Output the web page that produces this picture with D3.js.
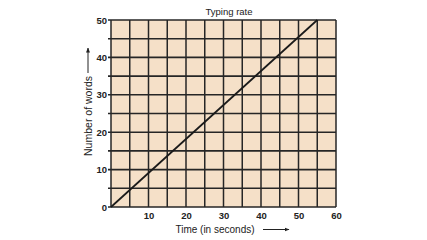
<!DOCTYPE html>
<html><head><meta charset="utf-8">
<script src="https://cdn.jsdelivr.net/npm/d3@7"></script>
<style>body{margin:0;background:#fff}svg{display:block}text{font-family:"Liberation Sans",Arial,sans-serif;fill:#222}</style>
</head><body>
<script>
const title = "Typing rate";
const xLabel = "Time (in seconds)";
const yLabel = "Number of words";
const xTicks = [10, 20, 30, 40, 50, 60];
const yTicks = [0, 10, 20, 30, 40, 50];
const timeSeconds = [0, 55];
const words = [0, 50];

const W = 427, H = 240;
const m = {left: 111, right: 91, top: 20, bottom: 33};
const svg = d3.select("body").append("svg").attr("width", W).attr("height", H);
const x = d3.scaleLinear().domain([0, 60]).range([m.left, W - m.right]);
const y = d3.scaleLinear().domain([0, 50]).range([H - m.bottom, m.top]);

svg.append("rect").attr("x", x(0)).attr("y", y(50)).attr("width", x(60) - x(0)).attr("height", y(0) - y(50)).attr("fill", "#f5e0c8");

const grid = d3.range(0, 61, 5);
const gridY = d3.range(0, 51, 5);
svg.append("g").selectAll("line").data(grid).join("line")
  .attr("x1", d => x(d)).attr("x2", d => x(d)).attr("y1", y(0)).attr("y2", y(50))
  .attr("stroke", "#262626").attr("stroke-width", 1.5);
svg.append("g").selectAll("line").data(gridY).join("line")
  .attr("x1", x(0) - 3).attr("x2", x(60)).attr("y1", d => y(d)).attr("y2", d => y(d))
  .attr("stroke", "#262626").attr("stroke-width", 1.6);

// axes labels
const xAxis = d3.axisBottom(x).tickValues(xTicks).tickSize(0).tickPadding(5);
const gx = svg.append("g").attr("transform", `translate(0,${y(0)})`).call(xAxis);
gx.select(".domain").remove();
gx.selectAll("text").attr("font-size", 9.5).attr("font-weight", "bold").attr("fill", "#2a2a2a").style("font-family", "Liberation Sans, Arial");

const yAxis = d3.axisLeft(y).tickValues(yTicks).tickSize(0).tickPadding(4);
const gy = svg.append("g").attr("transform", `translate(${x(0)},0)`).call(yAxis);
gy.select(".domain").remove();
gy.selectAll("text").attr("font-size", 9.5).attr("font-weight", "bold").attr("fill", "#2a2a2a").style("font-family", "Liberation Sans, Arial");

// data line
svg.append("path").datum(timeSeconds.map((t, i) => [t, words[i]]))
  .attr("d", d3.line().x(d => x(d[0])).y(d => y(d[1])))
  .attr("stroke", "#1a1a1a").attr("stroke-width", 1.7).attr("fill", "none");

// title
svg.append("text").attr("x", 229).attr("y", 15).attr("text-anchor", "middle").attr("font-size", 9.5).text(title);

// x label + arrow
svg.append("text").attr("x", 215).attr("y", 233).attr("text-anchor", "middle").attr("font-size", 10).text(xLabel);
const defs = svg.append("defs");
defs.append("marker").attr("id", "ah").attr("viewBox", "0 0 10 10").attr("refX", 9).attr("refY", 5)
  .attr("markerWidth", 5).attr("markerHeight", 5).attr("orient", "auto")
  .append("path").attr("d", "M0,1 L10,5 L0,9 Z").attr("fill", "#222");
svg.append("line").attr("x1", 263).attr("x2", 289).attr("y1", 229.5).attr("y2", 229.5)
  .attr("stroke", "#222").attr("stroke-width", 1).attr("marker-end", "url(#ah)");

// y label + arrow
svg.append("text").attr("transform", "translate(91.5,116) rotate(-90)").attr("text-anchor", "middle").attr("font-size", 10.5).text(yLabel);
svg.append("line").attr("x1", 88).attr("x2", 88).attr("y1", 73).attr("y2", 48)
  .attr("stroke", "#222").attr("stroke-width", 1).attr("marker-end", "url(#ah)");
</script>
</body></html>
